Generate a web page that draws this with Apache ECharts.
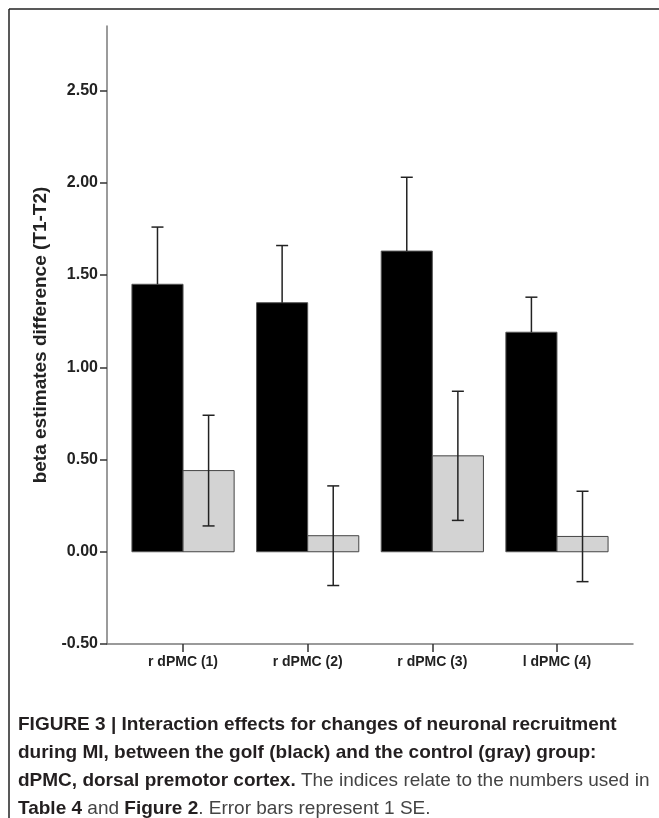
<!DOCTYPE html>
<html>
<head>
<meta charset="utf-8">
<script src="https://cdn.jsdelivr.net/npm/echarts@6/dist/echarts.min.js"></script>
<style>
html,body{margin:0;padding:0;background:#fff;}
#chart{width:659px;height:818px;}
</style>
</head>
<body>
<div id="chart"></div>
<script>
// ---- data ----
const categories = ['r dPMC (1)', 'r dPMC (2)', 'r dPMC (3)', 'l dPMC (4)'];
const golfMeans = [1.45, 1.35, 1.63, 1.19];
const golfSE = [0.31, 0.31, 0.40, 0.19];
const controlMeans = [0.44, 0.087, 0.52, 0.083];
const controlSE = [0.30, 0.27, 0.35, 0.245];
const yTicks = [-0.5, 0, 0.5, 1.0, 1.5, 2.0, 2.5];
const xTicks = [0, 1, 2, 3];

const BAR_W = 0.41; // bar width in category units
const CAP = 6;      // half cap width, px

function makeRender(side, fill, border, upperOnly) {
  return function (params, api) {
    const c = api.value(0), v = api.value(1), se = api.value(2);
    const x0 = side < 0 ? c - BAR_W : c;
    const x1 = side < 0 ? c : c + BAR_W;
    const pA = api.coord([x0, 0]);
    const pB = api.coord([x1, v]);
    const xm = api.coord([(x0 + x1) / 2, 0])[0];
    const yTop = api.coord([c, v + se])[1];
    const yBot = upperOnly ? pB[1] : api.coord([c, v - se])[1];
    const rect = {
      type: 'rect',
      shape: { x: pA[0], y: Math.min(pA[1], pB[1]), width: pB[0] - pA[0], height: Math.abs(pB[1] - pA[1]) },
      style: { fill: fill, stroke: border, lineWidth: 1 }
    };
    const eStyle = { stroke: '#222', lineWidth: 1.5 };
    const kids = [
      rect,
      { type: 'line', shape: { x1: xm, y1: yTop, x2: xm, y2: yBot }, style: eStyle },
      { type: 'line', shape: { x1: xm - CAP, y1: yTop, x2: xm + CAP, y2: yTop }, style: eStyle }
    ];
    if (!upperOnly) {
      kids.push({ type: 'line', shape: { x1: xm - CAP, y1: yBot, x2: xm + CAP, y2: yBot }, style: eStyle });
    }
    return { type: 'group', children: kids };
  };
}

const golfData = categories.map((c, i) => [i, golfMeans[i], golfSE[i]]);
const controlData = categories.map((c, i) => [i, controlMeans[i], controlSE[i]]);

const font = 'Liberation Sans, Arial, sans-serif';
const capLines = [
  [{t: 'FIGURE 3 | Interaction effects for changes of neuronal recruitment', b: true}],
  [{t: 'during MI, between the golf (black) and the control (gray) group:', b: true}],
  [{t: 'dPMC, dorsal premotor cortex.', b: true}, {t: ' The indices relate to the numbers used in', b: false}],
  [{t: 'Table 4', b: true}, {t: ' and ', b: false}, {t: 'Figure 2', b: true}, {t: '. Error bars represent 1 SE.', b: false}]
];
const capY = [725, 753, 781, 809];
const captionEls = capLines.map((parts, i) => ({
  type: 'text',
  left: 18,
  top: capY[i] - 10,
  style: {
    text: parts.map(p => '{' + (p.b ? 'b' : 'r') + '|' + p.t + '}').join(''),
    rich: {
      b: { fontFamily: font, fontWeight: 'bold', fontSize: 19, fill: '#231f20' },
      r: { fontFamily: font, fontWeight: 'normal', fontSize: 19, fill: '#444' }
    }
  }
}));

const chart = echarts.init(document.getElementById('chart'), null, { renderer: 'canvas' });
chart.setOption({
  backgroundColor: '#fff',
  animation: false,
  grid: { left: 107, right: 26, top: 26, bottom: 174, containLabel: false },
  xAxis: {
    type: 'value',
    min: -0.61,
    max: 3.61,
    splitLine: { show: false },
    axisLine: { show: true, onZero: false, lineStyle: { color: '#7a7a7a', width: 1.5 } },
    axisTick: { show: true, inside: false, length: 8, customValues: xTicks, lineStyle: { color: '#333', width: 1.5 } },
    axisLabel: {
      customValues: xTicks,
      formatter: v => categories[Math.round(v)] || '',
      fontFamily: font, fontWeight: 'bold', fontSize: 14, color: '#222', margin: 11
    }
  },
  yAxis: {
    type: 'value',
    min: -0.5,
    max: 2.85,
    splitLine: { show: false },
    axisLine: { show: true, onZero: false, lineStyle: { color: '#7a7a7a', width: 1.5 } },
    axisTick: { show: true, inside: false, length: 7, customValues: yTicks, lineStyle: { color: '#333', width: 1.5 } },
    axisLabel: {
      customValues: yTicks,
      formatter: v => v.toFixed(2),
      fontFamily: font, fontWeight: 'bold', fontSize: 16, color: '#222', margin: 9
    },
    name: 'beta estimates difference (T1-T2)',
    nameLocation: 'middle',
    nameGap: 47,
    nameRotate: 90,
    nameTextStyle: { fontFamily: font, fontWeight: 'bold', fontSize: 19, color: '#222' }
  },
  series: [
    { name: 'golf', type: 'custom', renderItem: makeRender(-1, '#000', '#555', true), data: golfData, z: 2 },
    { name: 'control', type: 'custom', renderItem: makeRender(1, '#d3d3d3', '#444', false), data: controlData, z: 3 }
  ],
  graphic: [
    { type: 'line', shape: { x1: 9, y1: 9, x2: 659, y2: 9 }, style: { stroke: '#222', lineWidth: 1.5 } },
    { type: 'line', shape: { x1: 9, y1: 9, x2: 9, y2: 818 }, style: { stroke: '#222', lineWidth: 1.5 } }
  ].concat(captionEls)
});
</script>
</body>
</html>
